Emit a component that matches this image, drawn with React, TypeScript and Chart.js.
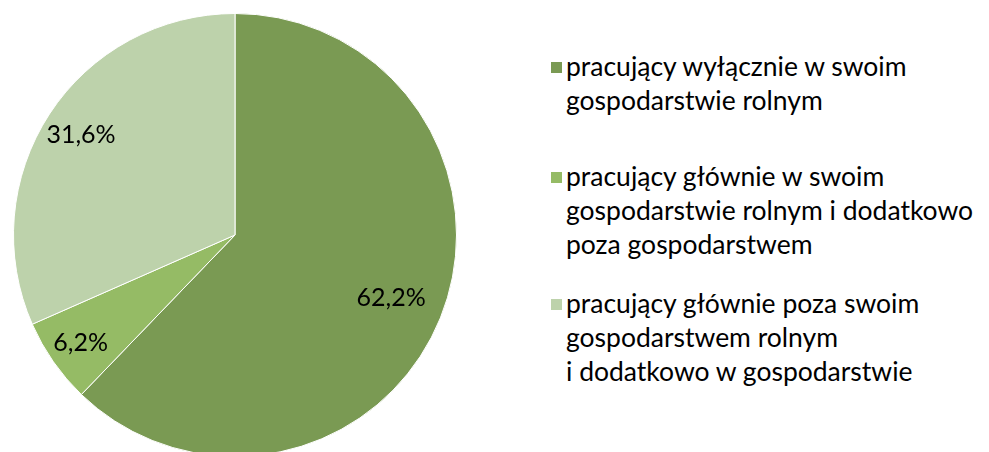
import React, { useEffect, useRef } from "react";
import { Chart, registerables } from "chart.js";

Chart.register(...registerables);

const categories = [
  "pracujący wyłącznie w swoim gospodarstwie rolnym",
  "pracujący głównie w swoim gospodarstwie rolnym i dodatkowo poza gospodarstwem",
  "pracujący głównie poza swoim gospodarstwem rolnym i dodatkowo w gospodarstwie",
];
const legendLines = [
  ["pracujący wyłącznie w swoim", "gospodarstwie rolnym"],
  ["pracujący głównie w swoim", "gospodarstwie rolnym i dodatkowo", "poza gospodarstwem"],
  ["pracujący głównie poza swoim", "gospodarstwem rolnym", "i dodatkowo w gospodarstwie"],
];
const values = [62.2, 6.2, 31.6];
const valueLabels = ["62,2%", "6,2%", "31,6%"];
const colors = ["#7a9a53", "#95bb65", "#bdd2ab"];

const FONT = "Lato, 'Open Sans', sans-serif";
const labelRadiusFrac = [0.76, 0.85, 0.83];

const labelPlugin = {
  id: "sliceLabels",
  afterDatasetsDraw(chart: any) {
    const ctx = chart.ctx;
    const meta = chart.getDatasetMeta(0);
    ctx.save();
    ctx.font = `25px ${FONT}`;
    ctx.fillStyle = "#000";
    ctx.textAlign = "center";
    ctx.textBaseline = "middle";
    meta.data.forEach((arc: any, i: number) => {
      const p = arc.getProps(["x", "y", "startAngle", "endAngle", "outerRadius"], true);
      const mid = (p.startAngle + p.endAngle) / 2;
      const r = p.outerRadius * labelRadiusFrac[i];
      ctx.fillText(valueLabels[i], p.x + Math.cos(mid) * r, p.y + Math.sin(mid) * r);
    });
    ctx.restore();
  },
};

export default function App() {
  const ref = useRef<HTMLCanvasElement>(null);
  useEffect(() => {
    document.body.style.margin = "0";
    const chart = new Chart(ref.current!, {
      type: "pie",
      data: {
        labels: categories,
        datasets: [
          {
            data: values,
            backgroundColor: colors,
            borderColor: "#ffffff",
            borderWidth: 1,
          },
        ],
      },
      options: {
        animation: false,
        responsive: false,
        layout: { padding: 13 },
        plugins: { legend: { display: false }, tooltip: { enabled: false } },
      },
      plugins: [labelPlugin],
    });
    return () => chart.destroy();
  }, []);

  const tops = [49, 159, 286];
  return (
    <div style={{ position: "relative", width: 989, height: 452, overflow: "hidden", background: "#fff" }}>
      <canvas ref={ref} width={470} height={470} style={{ position: "absolute", left: 0, top: 0, width: 470, height: 470 }} />
      {legendLines.map((lines, i) => (
        <div key={i} style={{ position: "absolute", left: 551, top: tops[i] }}>
          <div style={{ position: "absolute", left: 0, top: 13, width: 11, height: 11, background: colors[i] }} />
          <div style={{ marginLeft: 15, fontFamily: FONT, fontSize: 26.5, lineHeight: "34px", color: "#000", whiteSpace: "nowrap" }}>
            {lines.map((l, j) => (
              <div key={j}>{l}</div>
            ))}
          </div>
        </div>
      ))}
    </div>
  );
}
